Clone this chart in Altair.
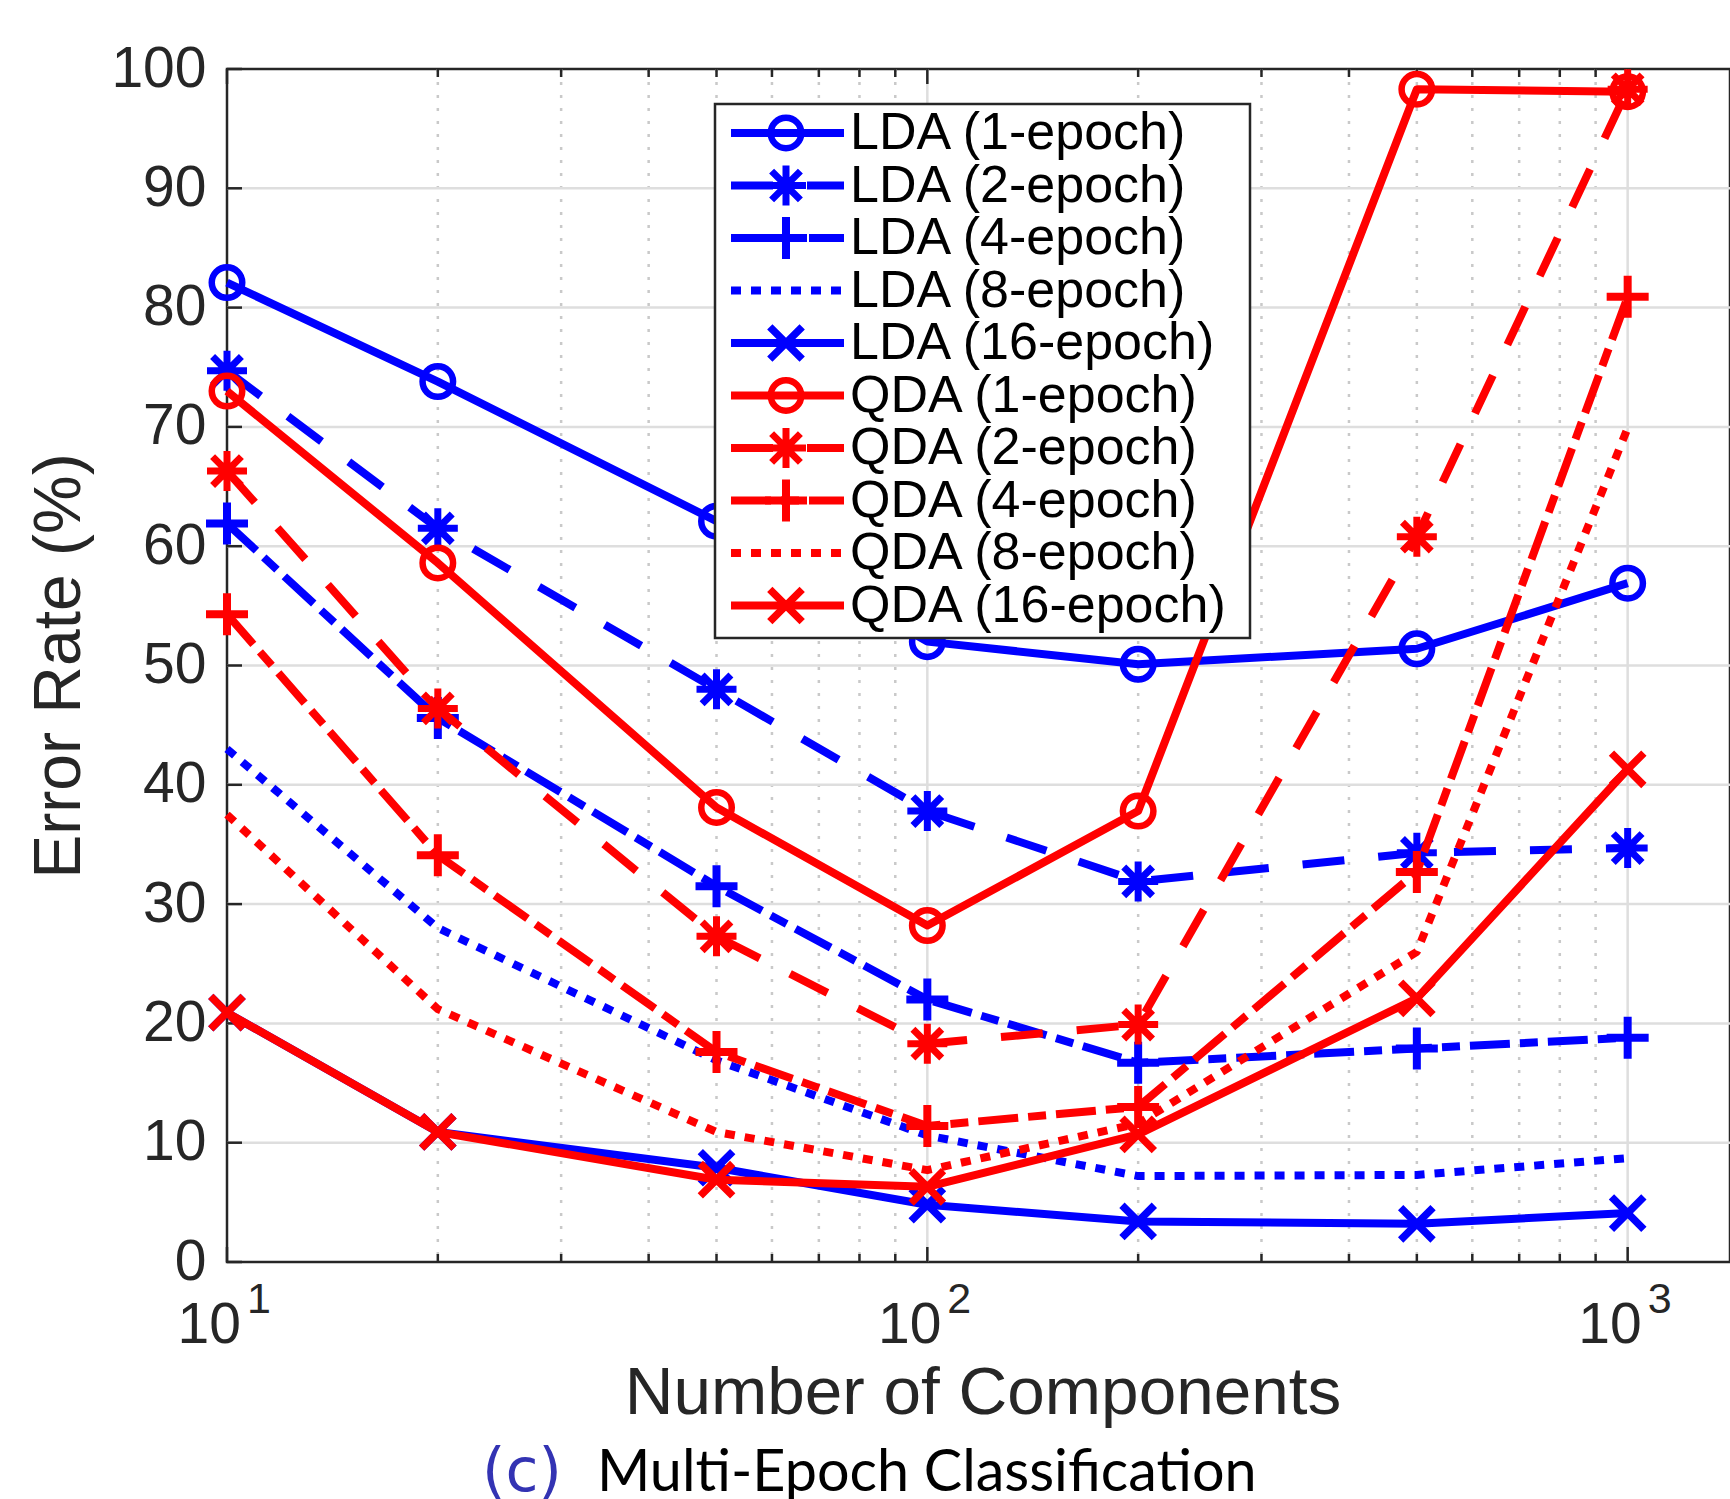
import altair as alt
import pandas as pd

# ---------------- data ----------------
n_components = [10, 20, 50, 100, 200, 500, 1000]

lda_1 = [82.1, 73.8, 62.1, 52.0, 50.1, 51.4, 56.9]
lda_2 = [74.7, 61.5, 48.0, 37.8, 31.9, 34.3, 34.7]
lda_4 = [61.9, 45.6, 31.5, 22.0, 16.7, 17.9, 18.8]
lda_8 = [43.0, 28.0, 16.9, 10.6, 7.2, 7.3, 8.7]
lda_16 = [20.9, 10.9, 7.9, 4.8, 3.4, 3.2, 4.1]
qda_1 = [73.0, 58.6, 38.1, 28.2, 37.8, 98.3, 98.1]
qda_2 = [66.3, 46.4, 27.3, 18.3, 19.9, 60.8, 98.3]
qda_4 = [54.3, 34.1, 17.6, 11.4, 13.0, 32.7, 80.9]
qda_8 = [37.5, 21.2, 10.9, 7.7, 11.6, 26.0, 69.9]
qda_16 = [20.9, 10.9, 6.9, 6.3, 10.7, 22.1, 41.3]

series_labels = [
    "LDA (1-epoch)", "LDA (2-epoch)", "LDA (4-epoch)", "LDA (8-epoch)", "LDA (16-epoch)",
    "QDA (1-epoch)", "QDA (2-epoch)", "QDA (4-epoch)", "QDA (8-epoch)", "QDA (16-epoch)",
]
series_values = [lda_1, lda_2, lda_4, lda_8, lda_16, qda_1, qda_2, qda_4, qda_8, qda_16]
series_colors = ["#0000ff"] * 5 + ["#ff0000"] * 5
series_dash = ["solid", "dashed", "dashdot", "dotted", "solid"] * 2
series_marker = ["o", "*", "+", "", "x"] * 2

y_tick_values = list(range(0, 101, 10))
y_grid_values = list(range(10, 100, 10))
x_major_values = [10, 100, 1000]
x_major_grid = [100, 1000]
x_minor_values = [20, 30, 40, 50, 60, 70, 80, 90, 200, 300, 400, 500, 600, 700, 800, 900]
x_tick_base = ["10", "10", "10"]
x_tick_exponent = ["1", "2", "3"]

x_title = "Number of Components"
y_title = "Error Rate (%)"
caption_tag = "(c)"
caption_text = "Multi-Epoch Classification"

# ---------------- styling ----------------
W, H = 1503, 1193
AX = "#262626"
FONT = "Liberation Sans"

DASH = {"solid": None, "dashed": [42, 34], "dashdot": [40, 10, 18, 10], "dotted": [10, 10]}
ASTERISK = "M-1,0L1,0M0,-1L0,1M-0.72,-0.72L0.72,0.72M-0.72,0.72L0.72,-0.72"
PLUS = "M-1,0L1,0M0,-1L0,1"
XMARK = "M-1,-1L1,1M-1,1L1,-1"
MARKER = {
    "o": dict(shape="circle", size=930, strokeWidth=6.5),
    "*": dict(shape=ASTERISK, size=1600, strokeWidth=7),
    "+": dict(shape=PLUS, size=1764, strokeWidth=8),
    "x": dict(shape=XMARK, size=1050, strokeWidth=7.5),
}

xs = alt.Scale(type="log", domain=[10, 1400], nice=False)
ys = alt.Scale(domain=[0, 100], nice=False, zero=False)
yaxis = alt.Axis(
    values=y_tick_values, ticks=False, domain=False, grid=False,
    labelFont=FONT, labelFontSize=57, labelColor=AX, labelPadding=21, labelOverlap=False,
    title=y_title, titleFont=FONT, titleFontSize=66, titleFontWeight="normal",
    titleColor=AX, titlePadding=17,
)


def X(field):
    return alt.X(field, scale=xs, axis=None)


def Y(field):
    return alt.Y(field, scale=ys, axis=yaxis)


layers = []

# grid
layers.append(
    alt.Chart(pd.DataFrame({"x": x_minor_values}))
    .mark_rule(color="#c9c9c9", strokeWidth=2.5, strokeDash=[3, 10])
    .encode(x=X("x:Q"))
)
layers.append(
    alt.Chart(pd.DataFrame({"x": x_major_grid}))
    .mark_rule(color="#dedede", strokeWidth=2.5)
    .encode(x=X("x:Q"))
)
layers.append(
    alt.Chart(pd.DataFrame({"y": y_grid_values}))
    .mark_rule(color="#dedede", strokeWidth=2.5)
    .encode(y=Y("y:Q"))
)

# inward ticks
for vals, ln in ((x_major_values, 15), (x_minor_values, 8)):
    df = pd.DataFrame({"x": vals})
    layers.append(
        alt.Chart(df).mark_rule(color=AX, strokeWidth=2.5)
        .encode(x=X("x:Q"), y=alt.value(H), y2=alt.value(H - ln))
    )
    layers.append(
        alt.Chart(df).mark_rule(color=AX, strokeWidth=2.5)
        .encode(x=X("x:Q"), y=alt.value(0), y2=alt.value(ln))
    )
layers.append(
    alt.Chart(pd.DataFrame({"y": y_tick_values})).mark_rule(color=AX, strokeWidth=2.5)
    .encode(y=Y("y:Q"), x=alt.value(0), x2=alt.value(15))
)

# x tick labels (10 with superscript exponent)
xlab = pd.DataFrame({"x": x_major_values, "base": x_tick_base, "exp": x_tick_exponent})
layers.append(
    alt.Chart(xlab).mark_text(align="right", baseline="alphabetic", dx=14,
                              font=FONT, fontSize=57, color=AX)
    .encode(x=X("x:Q"), y=alt.value(H + 81), text="base:N")
)
layers.append(
    alt.Chart(xlab).mark_text(align="left", baseline="alphabetic", dx=20,
                              font=FONT, fontSize=43, color=AX)
    .encode(x=X("x:Q"), y=alt.value(H + 51), text="exp:N")
)
layers.append(
    alt.Chart(pd.DataFrame({"t": [x_title]})).mark_text(
        align="center", baseline="alphabetic", font=FONT, fontSize=67.5, color=AX)
    .encode(x=alt.value(756), y=alt.value(H + 152), text="t:N")
)

# series
for lab, vals, col, dash, mk in zip(series_labels, series_values, series_colors,
                                    series_dash, series_marker):
    df = pd.DataFrame({"n": n_components, "err": vals, "series": lab})
    lkw = dict(color=col, strokeWidth=8, strokeCap="butt", strokeJoin="round")
    if DASH[dash]:
        lkw["strokeDash"] = DASH[dash]
    layers.append(alt.Chart(df).mark_line(**lkw).encode(x=X("n:Q"), y=Y("err:Q")))
    if mk:
        m = MARKER[mk]
        layers.append(
            alt.Chart(df).mark_point(filled=False, color=col, opacity=1, strokeCap="butt",
                                     shape=m["shape"], size=m["size"],
                                     strokeWidth=m["strokeWidth"])
            .encode(x=X("n:Q"), y=Y("err:Q"))
        )

# legend (manual, MATLAB style)
layers.append(
    alt.Chart(pd.DataFrame({"k": [0]})).mark_rect(fill="white", stroke=AX, strokeWidth=2.5)
    .encode(x=alt.value(488), x2=alt.value(1023), y=alt.value(35), y2=alt.value(569))
)
for i, (lab, col, dash, mk) in enumerate(zip(series_labels, series_colors,
                                              series_dash, series_marker)):
    ry = 64 + 52.5 * i
    dfl = pd.DataFrame({"label": [lab]})
    lkw = dict(color=col, strokeWidth=8, strokeCap="butt")
    if DASH[dash]:
        lkw["strokeDash"] = DASH[dash]
    layers.append(alt.Chart(dfl).mark_rule(**lkw)
                  .encode(x=alt.value(504), x2=alt.value(617), y=alt.value(ry)))
    if mk:
        m = MARKER[mk]
        layers.append(
            alt.Chart(dfl).mark_point(filled=False, color=col, opacity=1, strokeCap="butt",
                                      shape=m["shape"], size=m["size"],
                                      strokeWidth=m["strokeWidth"])
            .encode(x=alt.value(559), y=alt.value(ry))
        )
    layers.append(
        alt.Chart(dfl).mark_text(align="left", baseline="middle", font=FONT,
                                 fontSize=52, color="black")
        .encode(x=alt.value(623), y=alt.value(ry), text="label:N")
    )

# caption
layers.append(
    alt.Chart(pd.DataFrame({"t": [caption_tag]})).mark_text(
        align="left", baseline="alphabetic", font="DejaVu Sans", fontSize=60,
        color="#3333b3")
    .encode(x=alt.value(255), y=alt.value(H + 229), text="t:N")
)
layers.append(
    alt.Chart(pd.DataFrame({"t": [caption_text]})).mark_text(
        align="left", baseline="alphabetic", font="Lato", fontSize=57.5, color="black")
    .encode(x=alt.value(370), y=alt.value(H + 229), text="t:N")
)

chart = (
    alt.layer(*layers)
    .properties(
        width=W, height=H,
        autosize=alt.AutoSizeParams(type="none"),
        padding={"left": 227, "top": 69, "right": 0, "bottom": 237},
        background="white",
    )
    .configure_view(stroke=AX, strokeWidth=2.5)
)

chart.save("out.html", embed_options={"renderer": "svg", "actions": False})
